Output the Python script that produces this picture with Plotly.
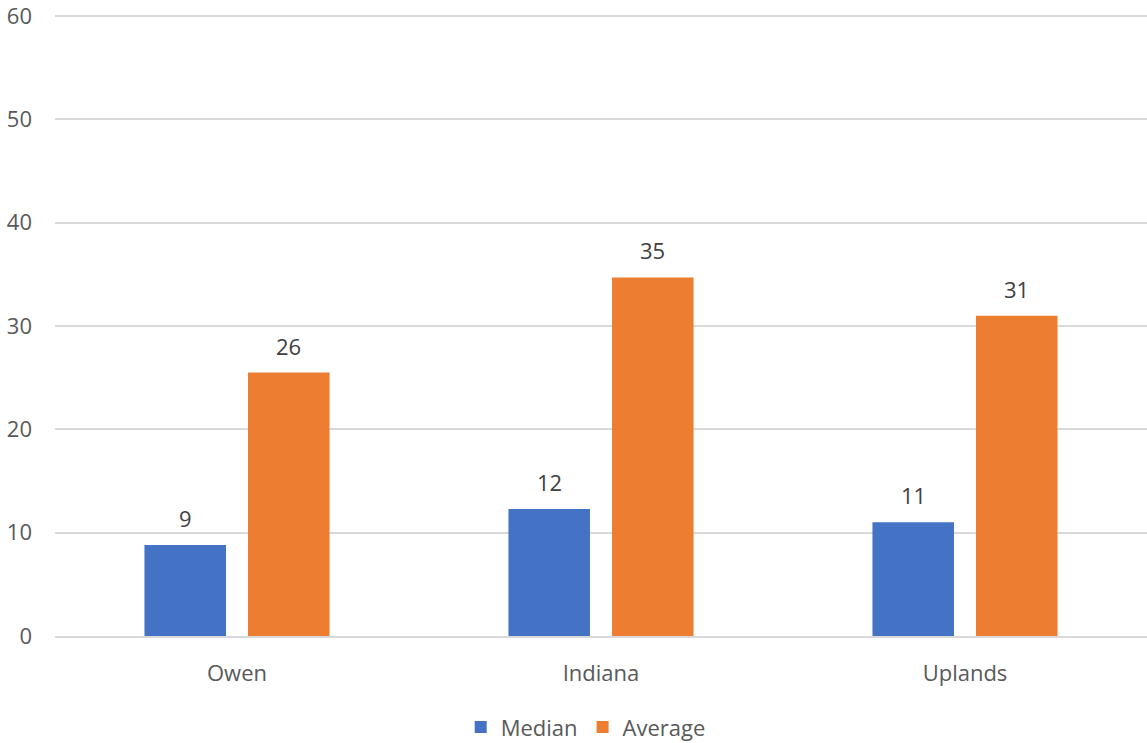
import plotly.graph_objects as go

# Category and series data
regions = ["Owen", "Indiana", "Uplands"]
median_vals = [8.8, 12.3, 11.0]
average_vals = [25.5, 34.7, 31.0]
y_ticks = [0, 10, 20, 30, 40, 50, 60]

BLUE = "#4472C4"
ORANGE = "#ED7D31"
GRID = "#D9D9D9"
AXIS_TEXT = "#595959"
LABEL_TEXT = "#404040"
FONT = "Open Sans"
SIZE = 22

fig = go.Figure()
fig.add_trace(go.Bar(name="Median", x=regions, y=median_vals,
                     marker=dict(color=BLUE, line=dict(width=0))))
fig.add_trace(go.Bar(name="Average", x=regions, y=average_vals,
                     marker=dict(color=ORANGE, line=dict(width=0))))

# Value labels above each bar, rounded to whole numbers
offset = 51.75
for vals, shift in ((median_vals, -offset), (average_vals, offset)):
    for cat, v in zip(regions, vals):
        fig.add_annotation(x=cat, y=v, text=f"{v:.0f}", showarrow=False,
                           xshift=shift, yanchor="bottom", yshift=10,
                           font=dict(family=FONT, size=SIZE, color=LABEL_TEXT))

fig.update_layout(
    width=1147, height=743,
    margin=dict(l=55, r=0, t=15, b=107, autoexpand=False),
    paper_bgcolor="white", plot_bgcolor="white",
    barmode="group", bargap=0.431, bargroupgap=0.2126,
    font=dict(family=FONT, size=SIZE, color=AXIS_TEXT),
    showlegend=True,
    legend=dict(orientation="h", x=0.486, xanchor="center", y=-0.147,
                yanchor="middle", font=dict(family=FONT, size=SIZE, color=AXIS_TEXT),
                itemwidth=30, traceorder="normal"),
)
fig.update_yaxes(range=[0, 60.1], tickvals=y_ticks, showgrid=True, gridcolor=GRID,
                 gridwidth=1.5, zeroline=False, showline=False,
                 ticks="", ticklabelstandoff=22, ticklabeloverflow="allow",
                 tickfont=dict(family=FONT, size=SIZE, color=AXIS_TEXT))
fig.update_xaxes(showgrid=False, showline=True, linecolor=GRID, linewidth=1.5,
                 ticks="", ticklabelstandoff=17,
                 tickfont=dict(family=FONT, size=SIZE, color=AXIS_TEXT))

fig.write_html("out.html")
